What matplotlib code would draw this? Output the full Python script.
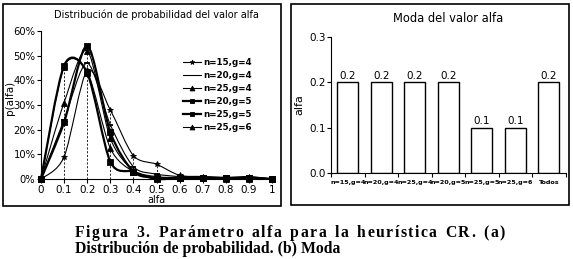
import matplotlib.pyplot as plt
import numpy as np
from matplotlib.path import Path
from matplotlib.patches import PathPatch, Rectangle
from matplotlib.lines import Line2D
from matplotlib.ticker import FuncFormatter

# distribution of alfa (percent) for each configuration
alfa = [0, 0.1, 0.2, 0.3, 0.4, 0.5, 0.6, 0.7, 0.8, 0.9, 1.0]
n15_g4 = [0, 9, 44, 28, 9.5, 6, 1.5, 1, 0.5, 1, 0]
n20_g4 = [0, 24, 47, 22, 5, 2, 1, 1, 0.5, 0.5, 0]
n25_g4 = [0, 31, 52, 16.5, 3.5, 1, 0.5, 0.5, 0.5, 0.5, 0]
n20_g5 = [0, 23, 54, 19, 3, 0.5, 0.5, 0.5, 0.5, 0.5, 0]
n25_g5 = [0, 46, 43, 7, 3, 0, 0.5, 0.3, 0.3, 0.3, 0]
n25_g6 = [0, 45.5, 43.5, 12.5, 3, 0.5, 0.5, 0.5, 0, 0, 0]

series_labels = ['n=15,g=4', 'n=20,g=4', 'n=25,g=4', 'n=20,g=5', 'n=25,g=5', 'n=25,g=6']
series_markers = ['*', '_', '^', 's', 's', '^']
series_widths = [0.8, 0.8, 0.8, 1.6, 1.6, 0.8]

# mode of alfa
bar_labels = ['n=15,g=4', 'n=20,g=4', 'n=25,g=4', 'n=20,g=5', 'n=25,g=5', 'n=25,g=6', 'Todos']
moda = [0.2, 0.2, 0.2, 0.2, 0.1, 0.1, 0.2]

caption1 = 'Figura 3. Parámetro alfa para la heurística CR. (a)'
caption2 = 'Distribución de probabilidad. (b) Moda'


def smooth_path(x, y, k=7.0):
    # excel-like smoothed line drawn as cubic bezier segments
    pts = np.column_stack([x, y]).astype(float)
    ext = np.vstack([pts[0], pts, pts[-1]])
    verts = [pts[0]]
    codes = [Path.MOVETO]
    for i in range(1, len(ext) - 2):
        p0, p1, p2, p3 = ext[i - 1], ext[i], ext[i + 1], ext[i + 2]
        verts += [p1 + (p2 - p0) / k, p2 - (p3 - p1) / k, p2]
        codes += [Path.CURVE4] * 3
    return Path(verts, codes)


fig = plt.figure(figsize=(5.73, 2.59), dpi=100)
W, H = 573.0, 259.0

def fbox(l, t, r, b):
    return [l / W, 1 - b / H, (r - l) / W, (b - t) / H]

# panel frames
for l, t, r, b in [(3, 4, 281, 206), (291, 4, 569, 205)]:
    fig.patches.append(Rectangle((l / W, 1 - b / H), (r - l) / W, (b - t) / H,
                                 transform=fig.transFigure, fill=False,
                                 edgecolor='black', linewidth=1.2))

# ---- left: probability distribution
ax1 = fig.add_axes(fbox(41, 31, 272, 179))
all_series = [n15_g4, n20_g4, n25_g4, n20_g5, n25_g5, n25_g6]
handles = []
for ys, lab, mk, lw in zip(all_series, series_labels, series_markers, series_widths):
    ax1.add_patch(PathPatch(smooth_path(alfa, ys), fill=False, edgecolor='black',
                            linewidth=lw, clip_on=False))
    ax1.plot(alfa, ys, linestyle='none', marker=mk, markersize=4 if mk != '_' else 4.5,
             color='black', markeredgewidth=1.3 if mk == '_' else 0.6, clip_on=False)
    handles.append(Line2D([], [], color='black', linewidth=lw, marker=mk,
                          markersize=3.5, markeredgewidth=0.6))

# drop lines
tops = np.max(np.array(all_series), axis=0)
ax1.vlines(alfa[1:6], 0, tops[1:6], colors='black', linestyles=(0, (2.5, 2)), linewidth=0.6)

ax1.set_xlim(0, 1)
ax1.set_ylim(0, 60)
ax1.set_xticks(alfa)
ax1.set_xticklabels(['0', '0.1', '0.2', '0.3', '0.4', '0.5', '0.6', '0.7', '0.8', '0.9', '1'])
ax1.set_yticks([0, 10, 20, 30, 40, 50, 60])
ax1.yaxis.set_major_formatter(FuncFormatter(lambda v, p: '%d%%' % v))
ax1.tick_params(axis='x', labelsize=7.5, length=3, width=0.8, pad=1)
ax1.tick_params(axis='y', labelsize=7.2, length=3, width=0.8, pad=1)
for s in ['top', 'right']:
    ax1.spines[s].set_visible(False)
ax1.set_xlabel('alfa', fontsize=7, labelpad=0)
ax1.set_ylabel('p(alfa)', fontsize=7.5)
ax1.yaxis.set_label_coords(-0.114, 0.55)
ax1.set_title('Distribución de probabilidad del valor alfa', fontsize=7, pad=9)
ax1.legend(handles, series_labels, loc='upper left', bbox_to_anchor=(0.6, 0.84),
           frameon=False, prop={'size': 6.3, 'weight': 'bold'}, handlelength=2.0,
           handletextpad=0.3, labelspacing=0.45, borderaxespad=0)

# ---- right: mode
ax2 = fig.add_axes(fbox(331, 37, 565.5, 173))
xpos = np.arange(len(moda))
ax2.bar(xpos, moda, width=0.63, color='white', edgecolor='black', linewidth=1.0)
for xb, v in zip(xpos, moda):
    ax2.text(xb, v + 0.003, '%.1f' % v, ha='center', va='bottom', fontsize=7.5)
ax2.set_xlim(-0.5, len(moda) - 0.5)
ax2.set_ylim(0, 0.3)
ax2.set_yticks([0.0, 0.1, 0.2, 0.3])
ax2.set_yticklabels(['0.0', '0.1', '0.2', '0.3'])
ax2.set_xticks(xpos)
ax2.set_xticklabels(bar_labels, fontsize=4.6, fontweight='bold')
ax2.set_xticks(np.arange(len(moda) + 1) - 0.5, minor=True)
ax2.tick_params(axis='x', which='major', length=0, pad=5)
ax2.tick_params(axis='x', which='minor', length=3, width=0.8)
ax2.tick_params(axis='y', labelsize=7.5, length=3, width=0.8, pad=1)
for s in ['top', 'right']:
    ax2.spines[s].set_visible(False)
ax2.set_ylabel('alfa', fontsize=8, labelpad=3)
ax2.set_title('Moda del valor alfa', fontsize=8.3, pad=11)

# caption; first line is justified (letter + word spacing) between x=75 and x=505 px
cap_font = dict(family='Liberation Serif', fontweight='bold', fontsize=11.3, va='center', ha='left')
fig.text(75 / W, 1 - 249 / H, caption2, **cap_font)
renderer = fig.canvas.get_renderer()
chars = [fig.text(0, 1 - 233 / H, c, **cap_font) for c in caption1]
space_w = 3.0
widths = [space_w if c == ' ' else t.get_window_extent(renderer).width
          for c, t in zip(caption1, chars)]
n_sp = caption1.count(' ')
extra = 505 - 75 - sum(widths)
track = 1.5
word_extra = (extra - track * (len(caption1) - 1 - n_sp)) / n_sp
xcur = 75.0
for c, t, w in zip(caption1, chars, widths):
    t.set_x(xcur / W)
    xcur += w + (word_extra if c == ' ' else track)

fig.savefig('out.png', dpi=100)
